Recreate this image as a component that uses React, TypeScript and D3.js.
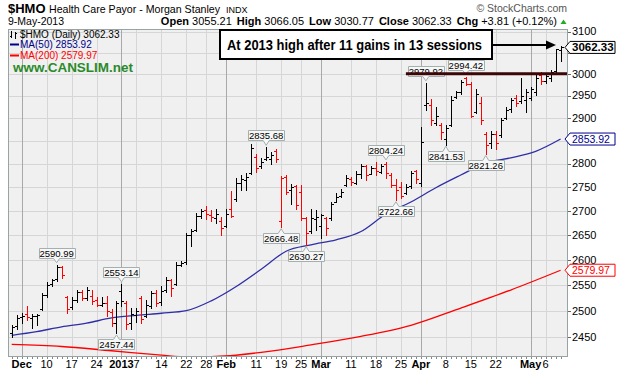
import React from 'react';
import * as d3 from 'd3';

const W = 617;
const H = 377;
const FONT = '"Liberation Sans", Arial, sans-serif';

// ---- calendar ----
const firstDay = '2012-11-29';
const lastDay = '2013-05-09';
const holidays = ['2012-12-25', '2013-01-01', '2013-01-21', '2013-02-18', '2013-03-29'];

// ---- daily OHLC (Nov 29 2012 .. May 9 2013) ----
const opens = [2458, 2472, 2488, 2495, 2486, 2490, 2505, 2532, 2552, 2562, 2586, 2528, 2508, 2522, 2537, 2526, 2530, 2522, 2512, 2516, 2498, 2478, 2540, 2515, 2478, 2492, 2525, 2490, 2510, 2535, 2518, 2542, 2560, 2552, 2590, 2596, 2650, 2662, 2690, 2702, 2692, 2685, 2680, 2670, 2705, 2725, 2760, 2765, 2780, 2815, 2795, 2810, 2810, 2828, 2680, 2772, 2745, 2752, 2740, 2685, 2658, 2684, 2670, 2685, 2685, 2720, 2732, 2755, 2768, 2760, 2778, 2795, 2778, 2792, 2782, 2800, 2775, 2755, 2750, 2738, 2752, 2785, 2760, 2930, 2930, 2890, 2885, 2855, 2885, 2948, 2958, 2990, 2978, 2915, 2935, 2865, 2845, 2865, 2862, 2900, 2920, 2945, 2938, 2940, 2945, 2960, 2998, 2985, 2990, 3008, 3055.21];
const highs = [2474, 2493, 2497, 2510, 2494, 2494, 2536, 2556, 2562, 2590.99, 2589, 2530, 2527, 2542, 2541, 2546, 2541, 2528, 2528, 2530, 2505, 2520, 2553.14, 2519, 2506, 2506, 2530, 2521, 2540, 2542, 2548, 2566, 2562, 2596, 2598, 2655, 2663, 2697, 2704, 2710, 2702, 2705, 2688, 2705, 2742, 2770, 2775, 2780, 2842, 2822, 2812, 2835.68, 2826, 2832, 2774, 2775, 2757, 2755, 2754, 2687, 2705, 2703, 2694, 2688, 2720, 2738, 2746, 2777, 2772, 2784, 2800, 2797, 2795, 2805, 2800, 2804.24, 2780, 2768, 2762, 2756, 2784, 2787, 2880, 2979.92, 2944, 2925, 2890, 2885, 2950, 2962, 2986, 2994.42, 2983, 2965, 2947, 2870, 2872, 2872, 2900, 2925, 2945, 2952, 2992, 2966, 2970, 2998, 3005, 2998, 3010, 3058, 3066.05];
const lows = [2451, 2466, 2478, 2484, 2468, 2474, 2502, 2528, 2548, 2558, 2565, 2497, 2505, 2518, 2521, 2522, 2514, 2509, 2510, 2490, 2472, 2457.44, 2510, 2466, 2466, 2480, 2478, 2488, 2506, 2510, 2512, 2538, 2530, 2550, 2588, 2592, 2628, 2660, 2686, 2683, 2680, 2675, 2650, 2668, 2688, 2722, 2745, 2744, 2778, 2782, 2792, 2808, 2800, 2803, 2666.48, 2735, 2715, 2705, 2681, 2630.27, 2655, 2662, 2645, 2651, 2681, 2718, 2730, 2752, 2755, 2756, 2770, 2766, 2778, 2777, 2780, 2770, 2750, 2722.66, 2728, 2736, 2748, 2760, 2753, 2918, 2885, 2885, 2855, 2841.53, 2883, 2945, 2955, 2974, 2903, 2912, 2888, 2821.26, 2835, 2833, 2858, 2898, 2915, 2928, 2935, 2914, 2940, 2952, 2978, 2980, 2985, 3005, 3030.77];
const closes = [2470, 2486, 2490, 2488, 2491, 2492, 2531, 2550, 2560, 2586, 2570, 2505, 2522, 2537, 2526, 2541, 2520, 2512, 2515, 2500, 2478, 2515, 2520, 2475, 2495, 2500, 2485, 2512, 2535, 2515, 2540, 2560, 2545, 2590, 2594, 2650, 2658, 2690, 2700, 2695, 2688, 2695, 2665, 2695, 2690, 2760, 2768, 2772, 2835, 2790, 2805, 2815, 2820, 2810, 2770, 2740, 2750, 2712, 2685, 2655, 2685, 2688, 2692, 2665, 2715, 2730, 2740, 2770, 2762, 2778, 2795, 2775, 2790, 2785, 2795, 2780, 2755, 2745, 2732, 2750, 2780, 2768, 2848, 2935, 2895, 2905, 2870, 2878, 2940, 2958, 2982, 2978, 2906, 2955, 2895, 2840, 2865, 2845, 2895, 2918, 2940, 2935, 2950, 2960, 2966, 2990, 2985, 2995, 3005, 3058.52, 3062.33];

// ---- moving averages (read at sample dates) ----
const ma50Dates = ['2012-11-29', '2012-12-06', '2012-12-13', '2012-12-20', '2012-12-28', '2013-01-07', '2013-01-14', '2013-01-22', '2013-01-29', '2013-02-05', '2013-02-12', '2013-02-20', '2013-02-27', '2013-03-06', '2013-03-13', '2013-03-20', '2013-03-27', '2013-04-04', '2013-04-11', '2013-04-18', '2013-04-25', '2013-05-02', '2013-05-09'];
const ma50Values = [2454, 2461, 2470, 2477, 2487, 2492, 2496, 2501, 2520, 2548, 2582, 2618, 2631, 2641, 2658, 2694, 2719, 2749, 2776, 2802, 2813, 2827, 2853.92];
const ma200Dates = ['2012-11-29', '2012-12-13', '2012-12-28', '2013-01-14', '2013-01-22', '2013-01-29', '2013-02-12', '2013-02-27', '2013-03-13', '2013-03-27', '2013-04-11', '2013-04-25', '2013-05-09'];
const ma200Values = [2437, 2433, 2425, 2417, 2413.6, 2414, 2422, 2436, 2452, 2473, 2506, 2541, 2579.97];

// ---- axes ----
const xTickDates = ['2012-12-03', '2012-12-10', '2012-12-17', '2012-12-24', '2013-01-02', '2013-01-07', '2013-01-14', '2013-01-22', '2013-01-28', '2013-02-01', '2013-02-11', '2013-02-19', '2013-02-25', '2013-03-01', '2013-03-11', '2013-03-18', '2013-03-25', '2013-04-01', '2013-04-08', '2013-04-15', '2013-04-22', '2013-05-01', '2013-05-06'];
const xTickLabels = ['Dec', '10', '17', '24', '2013', '7', '14', '22', '28', 'Feb', '11', '19', '25', 'Mar', '11', '18', '25', 'Apr', '8', '15', '22', 'May', '6'];
const xTickMajor = [true, false, false, false, true, false, false, false, false, true, false, false, false, true, false, false, false, true, false, false, false, true, false];
const yTicks = [2450, 2500, 2550, 2600, 2650, 2700, 2750, 2800, 2850, 2900, 2950, 3000, 3050, 3100];

// ---- annotated highs / lows ----
const peakDates = ['2012-12-12', '2013-01-02', '2012-12-31', '2013-02-13', '2013-02-19', '2013-02-26', '2013-03-20', '2013-03-22', '2013-04-02', '2013-04-12', '2013-04-08', '2013-04-18'];
const peakValues = [2590.99, 2553.14, 2457.44, 2835.68, 2666.48, 2630.27, 2804.24, 2722.66, 2979.92, 2994.42, 2841.53, 2821.26];
const peakKinds = ['high', 'high', 'low', 'high', 'low', 'low', 'high', 'low', 'high', 'high', 'low', 'low'];

const resistanceStart = '2013-03-26';
const resistanceLevel = 3000;

const lastClose = 3062.33;
const lastMa50 = 2853.92;
const lastMa200 = 2579.97;

const plot = { left: 8, right: 568, top: 29, bottom: 357 };

const fmtDay = d3.timeFormat('%Y-%m-%d');
const parseDay = d3.timeParse('%Y-%m-%d');

const days: string[] = d3
  .timeDay.range(parseDay(firstDay) as Date, d3.timeDay.offset(parseDay(lastDay) as Date, 1))
  .filter((d) => d.getDay() !== 0 && d.getDay() !== 6 && !holidays.includes(fmtDay(d)))
  .map((d) => fmtDay(d));

const x = d3.scalePoint<string>().domain(days).range([11.7, 560.6]);
const y = d3.scaleLog().domain([2413.4, 3106]).range([plot.bottom, plot.top]);

const RED = '#ff0000';
const BLUE = '#2e2ea6';
const NAVY = '#00008b';

export default function App() {
  const px = (d: string) => Math.round(x(d) as number) + 0.5;
  const py = (v: number) => Math.round(y(v)) + 0.5;

  const line = d3
    .line<[string, number]>()
    .x((d) => x(d[0]) as number)
    .y((d) => y(d[1]))
    .curve(d3.curveMonotoneX);

  const ma50Path = line(ma50Dates.map((d, i) => [d, ma50Values[i]] as [string, number])) || '';
  const ma200Path = line(ma200Dates.map((d, i) => [d, ma200Values[i]] as [string, number])) || '';

  const tagValues = [lastClose, lastMa50, lastMa200];
  const hiddenByTag = (t: number) => tagValues.some((v) => Math.abs(y(v) - y(t)) < 8);

  const tag = (v: number, color: string, bold: boolean, key: string) => {
    const yc = y(v);
    const d = `M565,${yc} L570,${yc - 6} H615 V${yc + 6} H570 Z`;
    return (
      <g key={key}>
        <path d={d} fill="#ffffff" stroke={color} strokeWidth={1} />
        <text x={572} y={yc + 4} fontSize={bold ? 11.5 : 10.5} fontWeight={bold ? 'bold' : 'normal'} fill={color} fontFamily={FONT}>
          {v.toFixed(2)}
        </text>
      </g>
    );
  };

  return (
    <svg width={W} height={H} style={{ position: 'absolute', left: 0, top: 0, background: '#fff' }} fontFamily={FONT}>
      <defs>
        <clipPath id="plotclip">
          <rect x={plot.left} y={plot.top} width={plot.right - plot.left} height={plot.bottom - plot.top} />
        </clipPath>
      </defs>
      {/* header */}
      <text x={8} y={13} fontSize={13} fontWeight="bold" fill="#000">$HMO</text>
      <text x={49} y={13} fontSize={11} fill="#000" textLength={171} lengthAdjust="spacingAndGlyphs">Health Care Payor - Morgan Stanley</text>
      <text x={226} y={13} fontSize={9} fill="#000">INDX</text>
      <text x={8} y={24.5} fontSize={10.5} fill="#000">9-May-2013</text>
      <text x={557} y={24.5} fontSize={11} textAnchor="end" fill="#000">
        <tspan fontWeight="bold">Open</tspan>
        <tspan> 3055.21</tspan>
        <tspan fontWeight="bold" dx={5}>High</tspan>
        <tspan> 3066.05</tspan>
        <tspan fontWeight="bold" dx={5}>Low</tspan>
        <tspan> 3030.77</tspan>
        <tspan fontWeight="bold" dx={5}>Close</tspan>
        <tspan> 3062.33</tspan>
        <tspan fontWeight="bold" dx={5}>Chg</tspan>
        <tspan> +3.81 (+0.12%)</tspan>
      </text>
      <path d="M560.5,24 L563.5,19.5 L566.5,24 Z" fill="#22aa22" />
      <text x={567} y={12} fontSize={10.5} textAnchor="end" fill="#555">© StockCharts.com</text>

      {/* plot background */}
      <rect x={plot.left} y={plot.top} width={plot.right - plot.left} height={plot.bottom - plot.top} fill="#f0f0f0" />
      {/* grid */}
      {yTicks.map((t) => (
        <line key={'gy' + t} x1={plot.left} x2={plot.right} y1={py(t)} y2={py(t)} stroke="#d6d6d6" strokeWidth={1} />
      ))}
      {xTickDates.map((d, i) => (
        <line key={'gx' + d} x1={px(d)} x2={px(d)} y1={plot.top} y2={plot.bottom} stroke={xTickMajor[i] ? '#a9a9a9' : '#d6d6d6'} strokeWidth={1} />
      ))}

      {/* moving averages */}
      <g clipPath="url(#plotclip)">
        <path d={ma200Path} fill="none" stroke={RED} strokeWidth={1.3} />
        <path d={ma50Path} fill="none" stroke={BLUE} strokeWidth={1.3} />
      </g>

      {/* OHLC bars */}
      <g shapeRendering="crispEdges">
        {days.map((d, i) => {
          const cx = px(d);
          const color = i > 0 && closes[i] < closes[i - 1] ? RED : '#000';
          const yh = Math.round(y(highs[i]));
          const yl = Math.round(y(lows[i])) + 1;
          const yo = py(opens[i]);
          const yc = py(closes[i]);
          return (
            <path
              key={d}
              d={`M${cx},${yh}V${yl}M${cx - 2.5},${yo}H${cx}M${cx},${yc}H${cx + 2.5}`}
              stroke={color}
              strokeWidth={1}
              fill="none"
            />
          );
        })}
      </g>

      {/* peak labels */}
      {peakDates.map((d, i) => {
        const cx = x(d) as number;
        const yv = y(peakValues[i]);
        const w = 36;
        const h = 10;
        const l = Math.round(cx - w / 2) + 0.5;
        const r = l + w;
        let path: string;
        let ty: number;
        if (peakKinds[i] === 'high') {
          const b = Math.round(yv - 7) + 0.5;
          const t = b - h;
          path = `M${l},${t}H${r}V${b}H${cx + 3}L${cx},${yv - 2}L${cx - 3},${b}H${l}Z`;
          ty = b - 1.8;
        } else {
          const t = Math.round(yv + 6) + 0.5;
          const b = t + h;
          path = `M${l},${t}H${cx - 3}L${cx},${yv + 1.5}L${cx + 3},${t}H${r}V${b}H${l}Z`;
          ty = b - 1.8;
        }
        return (
          <g key={'pk' + i}>
            <path d={path} fill="#f7f7f7" stroke="#a3b0b0" strokeWidth={1} />
            <text x={cx} y={ty} fontSize={9.5} textAnchor="middle" fill="#000">
              {peakValues[i].toFixed(2)}
            </text>
          </g>
        );
      })}

      {/* resistance line */}
      <line x1={x(resistanceStart) as number} x2={plot.right} y1={y(resistanceLevel) - 0.5} y2={y(resistanceLevel) - 0.5} stroke="#3a0606" strokeWidth={3} />

      {/* frame */}
      <rect x={plot.left + 0.5} y={plot.top + 0.5} width={plot.right - plot.left - 1} height={plot.bottom - plot.top - 1} fill="none" stroke="#98a4a4" strokeWidth={1} />

      {/* y axis */}
      {yTicks.map((t) => (
        <g key={'yt' + t}>
          <line x1={plot.right} x2={plot.right + 3} y1={py(t)} y2={py(t)} stroke="#666" />
          {!hiddenByTag(t) && (
            <text x={572} y={y(t) + 3.5} fontSize={11} fill="#000">{t}</text>
          )}
        </g>
      ))}
      {/* x axis */}
      {days.map((d) => (
        <line key={'xt' + d} x1={px(d)} x2={px(d)} y1={plot.bottom} y2={plot.bottom + 2} stroke="#888" />
      ))}
      {xTickDates.map((d, i) => (
        <text key={'xl' + d} x={x(d) as number} y={368} fontSize={11} fontWeight={xTickMajor[i] ? 'bold' : 'normal'} textAnchor="middle" fill="#000">
          {xTickLabels[i]}
        </text>
      ))}

      {/* right value tags */}
      {tag(lastMa200, RED, false, 'tag200')}
      {tag(lastMa50, NAVY, false, 'tag50')}
      {tag(lastClose, '#000', true, 'tagc')}

      {/* legend */}
      <path d="M11.5,31 V38 M10,36.5 H11.5 M15.5,32 V39 M15.5,33.5 H17" stroke="#000" strokeWidth={1} />
      <text x={20} y={38} fontSize={10} fill="#000">$HMO (Daily) 3062.33</text>
      <line x1={10} x2={19} y1={44.5} y2={44.5} stroke={NAVY} strokeWidth={2} />
      <text x={20} y={48} fontSize={10} fill={NAVY}>MA(50) 2853.92</text>
      <line x1={10} x2={19} y1={55.5} y2={55.5} stroke={RED} strokeWidth={2} />
      <text x={20} y={59} fontSize={10} fill={RED}>MA(200) 2579.97</text>
      <text x={13} y={71.5} fontSize={13} fontWeight="bold" fill="#2a8a2a" textLength={120} lengthAdjust="spacingAndGlyphs">www.CANSLIM.net</text>

      {/* annotation */}
      <rect x={220} y={30} width={272} height={29} fill="#fff" stroke="#000" strokeWidth={2} />
      <text x={227} y={50} fontSize={15} fontWeight="bold" fill="#000" textLength={255} lengthAdjust="spacingAndGlyphs">
        At 2013 high after 11 gains in 13 sessions
      </text>
      <line x1={493} x2={548} y1={45} y2={45} stroke="#000" strokeWidth={2} />
      <path d="M546,40.5 L556,45 L546,49.5 Z" fill="#000" />
    </svg>
  );
}
